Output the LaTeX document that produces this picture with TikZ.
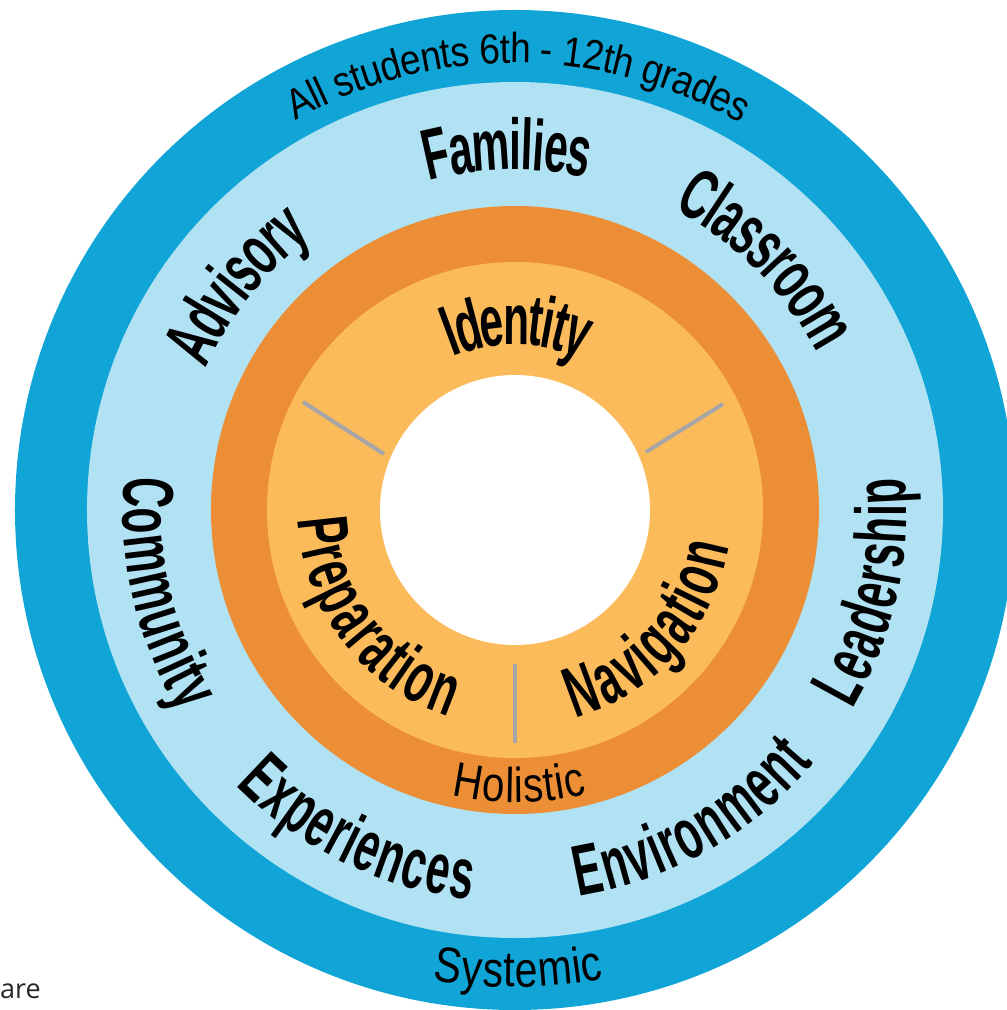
\documentclass[tikz,border=0pt]{standalone}
\usepackage{fontspec}
\setmainfont{Liberation Sans}
% condensed faces for the ring labels
\newfontfamily\wordfont[FakeStretch=0.59]{Liberation Sans}
\newfontfamily\thinfont[FakeStretch=0.82]{Liberation Sans}
\newfontfamily\bandfont[FakeStretch=0.88]{Liberation Sans}
\newfontfamily\notefont{Open Sans}
\usetikzlibrary{decorations.text}

\definecolor{ringblue}{HTML}{10A5D6}
\definecolor{paleblue}{HTML}{B0E2F4}
\definecolor{ringorange}{HTML}{EC8E35}
\definecolor{paleorange}{HTML}{FCBB5A}
\definecolor{divider}{HTML}{A6A6A6}

% every label path runs through the middle of the capitals;
% "raise" drops the baseline by half a cap height
\tikzset{
  bigword/.style={decorate, decoration={text along path, text align=center,
      raise=-25.8pt,
      text={|\wordfont\bfseries\fontsize{72}{72}\selectfont|#1}}},
  thinword/.style n args={3}{decorate, decoration={text along path, text align=center,
      raise=-#3pt,
      text={|\thinfont\fontsize{#2}{#2}\selectfont|#1}}},
  bandword/.style n args={3}{decorate, decoration={text along path, text align=center,
      raise=-#3pt,
      text={|\bandfont\fontsize{#2}{#2}\selectfont|#1}}},
  dividerline/.style={draw=divider, line width=4pt},
}

% label whose letter tops point away from the centre (arc run clockwise)
\newcommand\outerlabel[3]{% style, centre angle, radius
  \path[#1] (#2+70:#3) arc[start angle=#2+70, end angle=#2-70, radius=#3];}
% label whose letter tops point towards the centre (arc run counter-clockwise)
\newcommand\innerlabel[3]{%
  \path[#1] (#2-70:#3) arc[start angle=#2-70, end angle=#2+70, radius=#3];}

\begin{document}
\begin{tikzpicture}[x=1pt,y=1pt]
\useasboundingbox (-515,-500) rectangle (492,510);
\begin{scope}
  \clip (-515,-500) rectangle (492,510);
  % rings
  \fill[ringblue]   (0,0) circle[radius=500];
  \fill[paleblue]   (0,0) circle[radius=428];
  \fill[ringorange] (0,0) circle[radius=304];
  \fill[paleorange] (0,0) circle[radius=248];
  \fill[white]      (0,0) circle[radius=135];

  % dividers in the inner ring
  \coordinate (dl1) at (-131,56);  \coordinate (dl2) at (-212,108);
  \coordinate (dr1) at (131,58);   \coordinate (dr2) at (208,106);
  \coordinate (db1) at (0,-154);   \coordinate (db2) at (0,-233);
  \draw[dividerline] (dl1) -- (dl2);
  \draw[dividerline] (dr1) -- (dr2);
  \draw[dividerline] (db1) -- (db2);

  % outer band
  \outerlabel{bandword={All students 6th - 12th grades}{42}{15}}{89.6}{462}
  \innerlabel{thinword={Systemic}{50}{18}}{-89.6}{459}

  % pale blue band
  \outerlabel{bigword={Advisory}}{141}{366}
  \outerlabel{bigword={Families}}{91.2}{366}
  \outerlabel{bigword={Classroom}}{44.9}{366}
  \innerlabel{bigword={Community}}{193.2}{366}
  \innerlabel{bigword={Experiences}}{244}{366}
  \innerlabel{bigword={Environment}}{-60.5}{366}
  \innerlabel{bigword={Leadership}}{-12.9}{366}

  % orange band
  \innerlabel{thinword={Holistic}{49}{17.5}}{-89.2}{275}

  % pale orange band
  \outerlabel{bigword={Identity}}{89.3}{191}
  \innerlabel{bigword={Preparation}}{217.3}{191}
  \innerlabel{bigword={Navigation}}{-41.8}{191}
\end{scope}
\node[anchor=base west, inner sep=0, text=black!85,
      font=\notefont\fontsize{27}{27}\selectfont] (note) at (-515,-488) {are};
\end{tikzpicture}
\end{document}
